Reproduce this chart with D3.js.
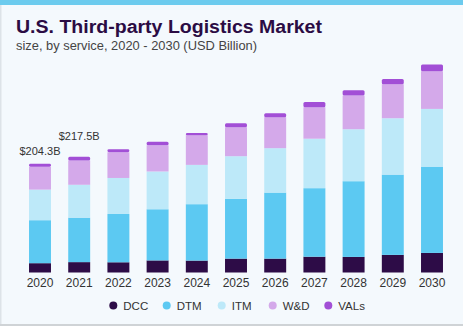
<!DOCTYPE html>
<html>
<head>
<meta charset="utf-8">
<script src="https://cdn.jsdelivr.net/npm/d3@7"></script>
<style>
  body { margin: 0; background: #fff; }
  text { font-family: "Liberation Sans", Arial, sans-serif; }
</style>
</head>
<body>
<svg id="chart"></svg>
<script>
// values (USD Billion)
var years = ["2020","2021","2022","2023","2024","2025","2026","2027","2028","2029","2030"]
var series = ["DCC","DTM","ITM","W&D","VALs"]
var DCC  = [17.5, 19.5, 19.2, 22.7, 22.4, 26.1, 26.1, 29.7, 29.3, 33.1, 36.8]
var DTM  = [80.8, 83.6, 90.8, 96.2, 106.0, 112.2, 124.1, 128.8, 142.3, 150.9, 162.2]
var ITM  = [57.5, 61.8, 67.7, 71.0, 73.9, 80.3, 83.5, 93.0, 97.7, 106.0, 108.5]
var WD   = [43.2, 45.6, 48.3, 49.2, 55.8, 54.5, 58.3, 59.2, 63.2, 63.9, 70.9]
var VALs = [5.3, 7.0, 5.5, 6.8, 4.0, 7.5, 7.5, 10.0, 10.2, 10.0, 12.4]
var callouts = [["2020", "$204.3B"], ["2021", "$217.5B"]]

var colors = ["#2d0c47", "#5cc9f2", "#bde9f9", "#d4a9ea", "#a24fd6"]

var width = 463, height = 326
var svg = d3.select("#chart").attr("width", width).attr("height", height)

// frame
svg.append("rect").attr("width", width).attr("height", height).attr("fill", "#f4f9fd")
svg.append("rect").attr("x", 0).attr("y", 0).attr("width", width).attr("height", 5).attr("fill", "#6ccbee")
svg.append("rect").attr("x", 0).attr("y", 5).attr("width", 1.5).attr("height", height - 5).attr("fill", "#dde3e8")
svg.append("rect").attr("x", 0).attr("y", height - 2).attr("width", width).attr("height", 2).attr("fill", "#cfd3d6")

svg.append("text")
    .attr("x", 16).attr("y", 33)
    .attr("font-size", 18).attr("font-weight", "bold")
    .attr("fill", "#2b0c44")
    .attr("textLength", 306).attr("lengthAdjust", "spacingAndGlyphs")
    .text("U.S. Third-party Logistics Market")

svg.append("text")
    .attr("x", 16).attr("y", 50)
    .attr("font-size", 12.5)
    .attr("fill", "#444")
    .attr("textLength", 241).attr("lengthAdjust", "spacingAndGlyphs")
    .text("size, by service, 2020 - 2030 (USD Billion)")

var rows = years.map(function(y, i) {
    return {year: y, "DCC": DCC[i], "DTM": DTM[i], "ITM": ITM[i], "W&D": WD[i], "VALs": VALs[i]}
})
var stacked = d3.stack().keys(series)(rows)

var x = d3.scaleBand()
    .domain(years)
    .range([20.4, 451.6])
    .paddingInner(0.44)
    .paddingOuter(0.22)

var y = d3.scaleLinear()
    .domain([0, 300])
    .range([272.5, 272.5 - 300 * 0.532])

var color = d3.scaleOrdinal().domain(series).range(colors)

var g = svg.append("g")
g.selectAll("g.layer")
    .data(stacked)
    .enter()
    .append("g")
        .attr("class", "layer")
        .attr("fill", d => color(d.key))
    .selectAll("rect")
    .data(d => d)
    .enter()
    .append("rect")
        .attr("x", d => x(d.data.year))
        .attr("width", x.bandwidth())
        .attr("y", d => y(d[1]))
        .attr("height", d => y(d[0]) - y(d[1]))

// slight rounding on the bar tops
g.selectAll("g.layer").filter(d => d.key == "VALs").selectAll("rect")
    .attr("rx", 1.5)

// x axis labels
var xAxis = svg.append("g")
    .attr("transform", "translate(0,276)")
    .call(d3.axisBottom(x).tickSize(0).tickPadding(0))
xAxis.select(".domain").remove()
xAxis.selectAll("text")
    .attr("dy", "0.71em")
    .attr("y", 2)
    .attr("font-size", 12)
    .attr("font-family", "Liberation Sans, Arial, sans-serif")
    .attr("fill", "#333")

// callouts on first two bars
var totals = {}
rows.forEach(r => { totals[r.year] = d3.sum(series, k => r[k]) })
var calloutGap = [9, 17]
svg.selectAll("text.callout")
    .data(callouts)
    .enter()
    .append("text")
        .attr("class", "callout")
        .attr("x", d => x(d[0]) + x.bandwidth() / 2)
        .attr("y", (d, i) => y(totals[d[0]]) - calloutGap[i])
        .attr("text-anchor", "middle")
        .attr("font-size", 11)
        .attr("fill", "#333")
        .text(d => d[1])

// legend
var legendX = [113.3, 166.7, 221.7, 272.7, 328.3]
var legend = svg.append("g")
    .selectAll("g")
    .data(series)
    .enter()
    .append("g")
        .attr("transform", (d, i) => "translate(" + legendX[i] + ",305.5)")
legend.append("circle")
    .attr("r", 4)
    .attr("fill", d => color(d))
legend.append("text")
    .attr("x", 10)
    .attr("dy", "0.36em")
    .attr("font-size", 11.5)
    .attr("fill", "#333")
    .text(d => d)
</script>
</body>
</html>
